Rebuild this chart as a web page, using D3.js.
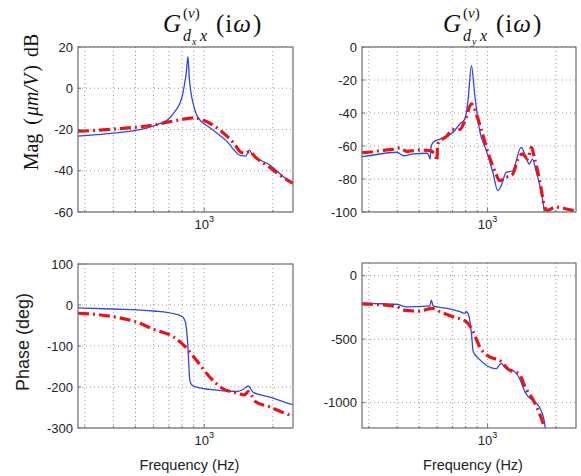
<!DOCTYPE html>
<html>
<head>
<meta charset="utf-8">
<script src="https://cdn.jsdelivr.net/npm/d3@7"></script>
<style>
body { margin: 0; background: #fff; }
.tick text { font-family: "Liberation Sans", Arial, sans-serif; font-size: 13px; fill: #222; }
</style>
</head>
<body>
<script>
// frequency range of all four panels (Hz, log axis)
var fDomain = [280, 2450];
var fMinor = [300, 400, 500, 600, 700, 800, 900, 2000];

// Gdx magnitude (dB): blue = measured, red = model
var magXBlue = [[280,-23.2],[300,-23],[400,-21.8],[600,-18.2],[706,-14.4],[745,-11.2],[780,-7.6],[805,-3],[820,2],[835,7.5],[849,15.3],[862,4],[877,-2.8],[900,-8.5],[923,-12.5],[980,-16.5],[1055,-19],[1248,-25.4],[1450,-32.7],[1520,-32.9],[1577,-30],[1620,-31.9],[1928,-37],[2356,-45],[2450,-46]];
var magXRed = [[280,-20.9],[400,-19.8],[600,-17.8],[750,-15.7],[900,-14.4],[1040,-16.5],[1180,-20.6],[1350,-26.7],[1450,-31],[1520,-31.5],[1577,-30.6],[1680,-33.5],[1930,-38.3],[2356,-45],[2450,-46]];

// Gdy magnitude (dB)
var magYBlue = [[280,-66.5],[300,-65.9],[399,-63.8],[427,-65.9],[472,-64.8],[540,-64.4],[552,-66],[558,-67.9],[565,-60],[577,-57.7],[617,-55.8],[705,-51.7],[755,-46.7],[794,-43.6],[820,-32.5],[849,-11.3],[877,-28.5],[923,-50.7],[987,-62.8],[1055,-76],[1109,-87],[1148,-84],[1207,-76],[1290,-75],[1403,-60.8],[1475,-66.8],[1525,-70.9],[1577,-67.9],[1632,-75],[1716,-87],[1774,-99],[1800,-108],[2450,-110]];
var magYRed = [[280,-64],[300,-63.8],[336,-62.8],[380,-62],[410,-61.2],[441,-63.2],[502,-62.4],[558,-62.8],[590,-66],[598,-69],[603,-58.8],[665,-53.7],[700,-50],[755,-50],[800,-43.6],[849,-34.5],[897,-41.6],[950,-52.7],[1020,-66.8],[1090,-77],[1128,-81],[1207,-79],[1290,-77],[1360,-67.9],[1425,-64.8],[1500,-67.9],[1560,-60.8],[1605,-66.8],[1660,-75],[1716,-85],[1774,-96],[1835,-99],[1990,-97],[2200,-98],[2370,-99],[2450,-99.5]];

// Gdx phase (deg)
var phXBlue = [[280,-7],[400,-9.8],[600,-14.6],[750,-22],[800,-28],[820,-36],[830,-45],[840,-70],[849,-102],[857,-150],[865,-183],[880,-194],[897,-198],[1055,-206],[1390,-211],[1480,-206],[1560,-197.6],[1640,-213],[1928,-224],[2370,-241],[2450,-243]];
var phXRed = [[280,-20],[400,-28.5],[500,-40.7],[610,-61],[730,-77],[830,-103],[923,-134],[1055,-175],[1200,-203],[1390,-215],[1500,-219.5],[1560,-211],[1620,-222],[1680,-236],[1928,-248],[2370,-268],[2450,-270]];

// Gdy phase (deg)
var phYBlue = [[280,-215],[300,-218],[399,-226],[441,-245],[540,-240],[558,-237],[565,-192],[577,-240],[665,-258],[755,-284],[794,-297],[806,-284],[826,-311],[849,-455],[865,-600],[914,-653],[987,-705],[1090,-732],[1148,-692],[1207,-732],[1290,-745],[1370,-798],[1475,-929],[1577,-982],[1690,-1035],[1774,-1140],[1810,-1250]];
var phYRed = [[280,-222],[300,-224],[399,-245],[427,-271],[502,-279],[570,-258],[617,-284],[705,-324],[806,-363],[865,-442],[923,-561],[1020,-640],[1128,-666],[1250,-745],[1370,-771],[1475,-890],[1577,-969],[1716,-1114],[1774,-1193],[1790,-1220]];

// y ticks
var magXTicks = [-60, -40, -20, 0, 20];
var magYTicks = [-100, -80, -60, -40, -20, 0];
var phXTicks = [-300, -200, -100, 0, 100];
var phYTicks = [-1000, -500, 0];

var W = 581, H = 476;
var svg = d3.select("body").append("svg")
    .attr("width", W)
    .attr("height", H);

var panels = [
  {id: "tl", x0: 78, x1: 293, y0: 47, y1: 212, yDom: [-60, 20], ticks: magXTicks, blue: magXBlue, red: magXRed},
  {id: "tr", x0: 362, x1: 576, y0: 47, y1: 212, yDom: [-100, 0], ticks: magYTicks, blue: magYBlue, red: magYRed},
  {id: "bl", x0: 78, x1: 293, y0: 264, y1: 428, yDom: [-300, 100], ticks: phXTicks, blue: phXBlue, red: phXRed, freq: true},
  {id: "br", x0: 362, x1: 576, y0: 263, y1: 428, yDom: [-1200, 100], ticks: phYTicks, blue: phYBlue, red: phYRed, freq: true}
];

panels.forEach(function(p) {
  var x = d3.scaleLog().domain(fDomain).range([p.x0, p.x1]);
  var y = d3.scaleLinear().domain(p.yDom).range([p.y1, p.y0]);
  var g = svg.append("g");

  g.append("clipPath").attr("id", "clip-" + p.id)
    .append("rect")
      .attr("x", p.x0).attr("y", p.y0)
      .attr("width", p.x1 - p.x0).attr("height", p.y1 - p.y0);

  // grid
  var gx = fMinor.concat([1000]);
  g.selectAll("line.vg").data(gx).enter().append("line")
      .attr("x1", function(d) { return x(d); })
      .attr("x2", function(d) { return x(d); })
      .attr("y1", p.y0).attr("y2", p.y1)
      .attr("stroke", "#9a9a9a")
      .attr("stroke-width", 1)
      .attr("stroke-dasharray", "1,3");
  g.selectAll("line.hg").data(p.ticks).enter().append("line")
      .attr("x1", p.x0).attr("x2", p.x1)
      .attr("y1", function(d) { return y(d); })
      .attr("y2", function(d) { return y(d); })
      .attr("stroke", "#9a9a9a")
      .attr("stroke-width", 1)
      .attr("stroke-dasharray", "1,3");

  // curves
  var line = d3.line()
      .x(function(d) { return x(d[0]); })
      .y(function(d) { return y(d[1]); })
      .curve(d3.curveMonotoneX);
  var cg = g.append("g").attr("clip-path", "url(#clip-" + p.id + ")");
  cg.append("path")
      .attr("d", line(p.blue))
      .attr("fill", "none")
      .attr("stroke", "#3247d6")
      .attr("stroke-width", 1.3);
  cg.append("path")
      .attr("d", line(p.red))
      .attr("fill", "none")
      .attr("stroke", "#e8141c")
      .attr("stroke-width", 3.2)
      .attr("stroke-dasharray", "11,4,2,4");

  // box
  g.append("rect")
      .attr("x", p.x0).attr("y", p.y0)
      .attr("width", p.x1 - p.x0).attr("height", p.y1 - p.y0)
      .attr("fill", "none")
      .attr("stroke", "#6e6e6e")
      .attr("stroke-width", 1.2);

  // inward ticks
  g.selectAll("line.yt").data(p.ticks).enter().append("line")
      .attr("x1", p.x0).attr("x2", p.x0 + 3)
      .attr("y1", function(d) { return y(d); })
      .attr("y2", function(d) { return y(d); })
      .attr("stroke", "#6e6e6e");
  g.selectAll("line.xt").data(gx).enter().append("line")
      .attr("x1", function(d) { return x(d); })
      .attr("x2", function(d) { return x(d); })
      .attr("y1", p.y1).attr("y2", function(d) { return p.y1 - (d === 1000 ? 4 : 2); })
      .attr("stroke", "#6e6e6e");

  // y tick labels
  g.append("g")
      .attr("transform", "translate(" + p.x0 + ",0)")
      .call(d3.axisLeft(y).tickValues(p.ticks).tickSize(0).tickPadding(5)
        .tickFormat(function(d) { return String(d); }))
      .call(function(a) { a.select(".domain").remove(); });

  // x tick label 10^3
  var xl = g.append("text")
      .attr("x", x(1000))
      .attr("y", p.y1 + 17)
      .attr("text-anchor", "middle")
      .attr("font-family", "Liberation Sans, Arial, sans-serif")
      .attr("font-size", 13)
      .attr("fill", "#222")
      .text("10");
  xl.append("tspan").attr("dy", -7).attr("font-size", 9).text("3");

  if (p.freq) {
    g.append("text")
        .attr("x", (p.x0 + p.x1) / 2 + 4)
        .attr("y", 470)
        .attr("text-anchor", "middle")
        .attr("font-family", "Liberation Sans, Arial, sans-serif")
        .attr("font-size", 14.5)
        .attr("fill", "#222")
        .text("Frequency (Hz)");
  }
});

// panel titles  G^{(v)}_{d_? x}(iω)
function title(x0, sub) {
  var t = svg.append("g")
      .attr("transform", "translate(" + x0 + ",32)")
      .attr("font-family", "Liberation Serif, Times New Roman, serif")
      .attr("fill", "#111");
  t.append("text").attr("font-size", 25).attr("font-style", "italic").text("G");
  var sup = t.append("text").attr("x", 20).attr("y", -14).attr("font-size", 15);
  sup.append("tspan").text("(");
  sup.append("tspan").attr("font-style", "italic").text("v");
  sup.append("tspan").text(")");
  t.append("text").attr("x", 20).attr("y", 9).attr("font-size", 16).attr("font-style", "italic").text("d");
  t.append("text").attr("x", 29).attr("y", 13).attr("font-size", 10).attr("font-style", "italic").text(sub);
  t.append("text").attr("x", 37).attr("y", 9).attr("font-size", 16).attr("font-style", "italic").text("x");
  var r = t.append("text").attr("x", 53).attr("font-size", 25);
  r.append("tspan").text("(");
  r.append("tspan").attr("dx", 1).text("i");
  r.append("tspan").attr("dx", 1).attr("font-style", "italic").text("\u03c9");
  r.append("tspan").attr("dx", 2).text(")");
}
title(163, "x");
title(443, "y");

// y labels
var ml = svg.append("text")
    .attr("transform", "translate(38,102) rotate(-90)")
    .attr("text-anchor", "middle")
    .attr("font-family", "Liberation Serif, Times New Roman, serif")
    .attr("font-size", 20)
    .attr("fill", "#111");
ml.append("tspan").text("Mag");
ml.append("tspan").attr("dx", 9).text("(");
ml.append("tspan").attr("dx", 2).attr("font-style", "italic").text("\u03bcm/V");
ml.append("tspan").attr("dx", 2).text(")");
ml.append("tspan").attr("dx", 8).text("dB");

svg.append("text")
    .attr("transform", "translate(29,342) rotate(-90)")
    .attr("text-anchor", "middle")
    .attr("font-family", "Liberation Sans, Arial, sans-serif")
    .attr("font-size", 18)
    .attr("fill", "#222")
    .text("Phase (deg)");
</script>
</body>
</html>
